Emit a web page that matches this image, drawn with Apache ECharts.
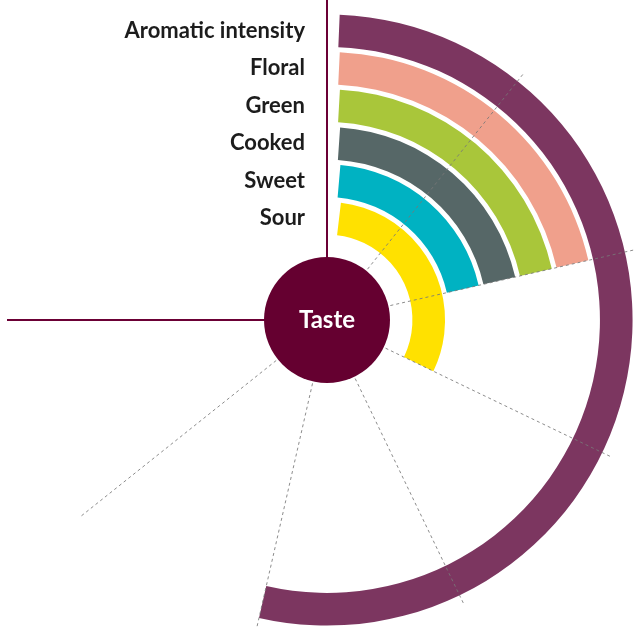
<!DOCTYPE html>
<html>
<head>
<meta charset="utf-8">
<script src="https://cdn.jsdelivr.net/npm/echarts@6/dist/echarts.min.js"></script>
<style>
  html, body { margin: 0; padding: 0; background: #fff; }
  #main { width: 640px; height: 640px; }
</style>
</head>
<body>
<div id="main"></div>
<script>
// rings from inner to outer
var categories = ['Sour', 'Sweet', 'Cooked', 'Green', 'Floral', 'Aromatic intensity'];
var scores = [3, 2, 2, 2, 2, 5];
var scaleMax = 7;           // 7 steps over 270 degrees
var centerName = 'Taste';

var colors = ['#ffe100', '#00b2c2', '#566767', '#a9c63a', '#f0a08c', '#7c3660'];

var CX = 327, CY = 320;
var R_IN = 83, R_OUT = 308;
var degPerUnit = 270 / scaleMax;
var band = (R_OUT - R_IN) / categories.length;

// small gap after the vertical line, about 12px at each ring's middle
var offsets = categories.map(function (c, i) {
    var rMid = R_IN + band * (i + 0.5);
    return Math.asin(12 / rMid) * 180 / Math.PI / degPerUnit;
});

var chart = echarts.init(document.getElementById('main'));

var option = {
    animation: false,
    polar: [
        { center: [CX, CY], radius: [R_IN, R_OUT] },
        { center: [CX, CY], radius: [65, 314] },
        { center: [CX, CY], radius: [60, 320] }
    ],
    angleAxis: [
        { polarIndex: 0, type: 'value', min: 0, max: scaleMax, startAngle: 90, endAngle: -180, show: false },
        {
            polarIndex: 1, type: 'value', min: 0, max: scaleMax, interval: 1,
            startAngle: 90, endAngle: -180, z: 5,
            axisLine: { show: false }, axisTick: { show: false }, axisLabel: { show: false },
            splitLine: { show: true, lineStyle: { color: 'rgba(120,120,120,0.85)', width: 1, type: [3, 3] } }
        },
        {
            polarIndex: 2, type: 'value', min: 0, max: scaleMax, interval: scaleMax,
            startAngle: 90, endAngle: -180, z: 6,
            axisLine: { show: false }, axisTick: { show: false }, axisLabel: { show: false },
            splitLine: { show: true, lineStyle: { color: '#6b0035', width: 2, type: 'solid' } }
        }
    ],
    radiusAxis: [
        {
            polarIndex: 0, type: 'category', data: categories,
            axisLine: { show: false }, axisTick: { show: false }, splitLine: { show: false },
            axisLabel: {
                interval: 0, hideOverlap: false,
                margin: 22, fontSize: 22, fontWeight: 'bold', color: '#1c1c1c',
                fontFamily: 'Lato', padding: [8, 0, 0, 0]
            }
        },
        { polarIndex: 1, type: 'value', min: 0, max: 1, show: false },
        { polarIndex: 2, type: 'value', min: 0, max: 1, show: false }
    ],
    series: [
        {
            type: 'bar', coordinateSystem: 'polar', polarIndex: 0, stack: 'ring',
            barWidth: '87%', silent: true,
            itemStyle: { color: 'rgba(0,0,0,0)' },
            data: offsets
        },
        {
            type: 'bar', coordinateSystem: 'polar', polarIndex: 0, stack: 'ring',
            barWidth: '87%', silent: true,
            data: scores.map(function (v, i) {
                return { value: v - offsets[i], itemStyle: { color: colors[i] } };
            })
        },
        {
            type: 'pie', center: [CX, CY], radius: 63, z: 10, silent: true,
            itemStyle: { color: '#650030' },
            label: {
                position: 'center', formatter: '{b}', color: '#fff',
                fontSize: 24, fontWeight: 'bold', fontFamily: 'Lato'
            },
            labelLine: { show: false },
            data: [{ name: centerName, value: 1 }]
        }
    ]
};

chart.setOption(option);
</script>
</body>
</html>
